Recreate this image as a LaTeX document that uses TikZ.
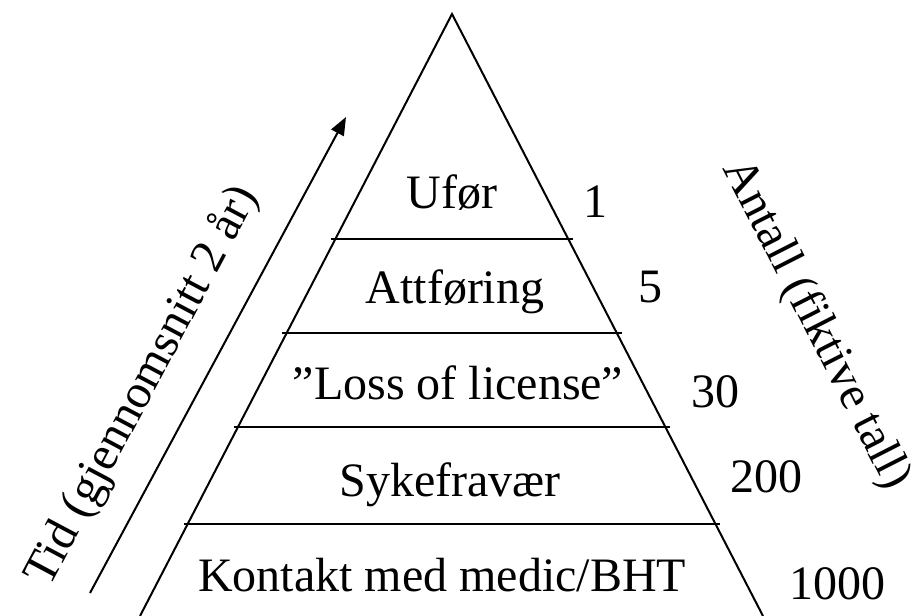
\documentclass[tikz,border=0pt]{standalone}
\usepackage{fontspec}
\setmainfont{Liberation Serif}
\usepackage{tikz}
\usetikzlibrary{positioning, arrows.meta}

\begin{document}
\begin{tikzpicture}[x=0.5pt,y=-0.5pt,line width=1pt]
\useasboundingbox (0,0) rectangle (917,616);
\tikzset{lbl/.style={font=\fontsize{24}{28}\selectfont, anchor=base, inner sep=0pt}}
% pyramid
\coordinate (top) at (452,14);
\coordinate (bl) at (140,616);
\coordinate (br) at (763,616);
\draw (bl) -- (top) -- (br);
\foreach \y/\w in {239/121, 333/170, 427/218, 524/268}{
\draw (452-\w,\y) -- (452+\w,\y);
}
% levels
\node[lbl] (ufor) at (452,208) {Ufør};
\node[lbl] (attf) at (455,303) {Attføring};
\node[lbl] (loss) at (458,399) {”Loss of license”};
\node[lbl] (syke) at (450,496) {Sykefravær};
\node[lbl] (kont) at (442,591) {Kontakt med medic/BHT};
% numbers
\node[lbl] (n1) at (595,217) {1};
\node[lbl] (n5) at (650,302) {5};
\node[lbl] (n30) at (715,407) {30};
\node[lbl] (n200) at (766,492) {200};
\node[lbl] (n1000) at (837,599) {1000};
% time arrow
\coordinate (tidS) at (90,593);
\coordinate (tidE) at (346,117);
\draw[-{Triangle[length=9pt,width=7pt]}] (tidS) -- (tidE);
\node[lbl, rotate=62] (tid) at (154,392) {Tid (gjennomsnitt 2 år)};
\node[lbl, rotate=-63] (antall) at (805,330) {Antall (fiktive tall)};
\end{tikzpicture}
\end{document}
